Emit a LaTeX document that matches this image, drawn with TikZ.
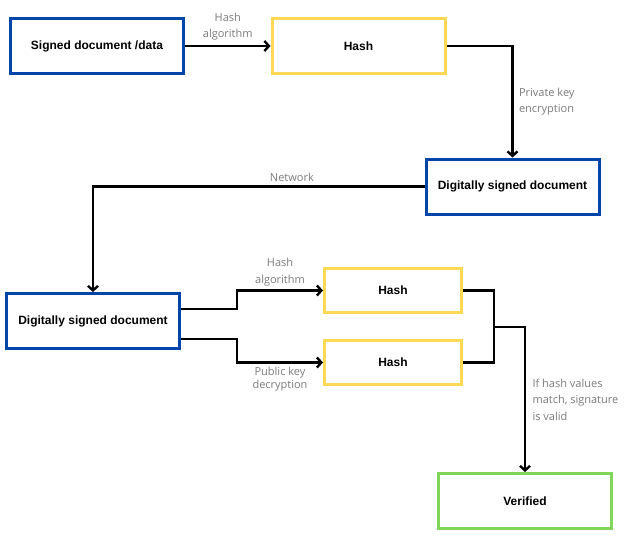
\documentclass[tikz,border=0pt]{standalone}
\usepackage{fontspec}
\usetikzlibrary{arrows.meta}
\newfontfamily\boxfont{Liberation Sans}
\newfontfamily\lblfont{Open Sans}
\definecolor{docblue}{RGB}{0,70,170}
\definecolor{hashyellow}{RGB}{255,216,85}
\definecolor{okgreen}{RGB}{128,214,88}

\begin{document}
\begin{tikzpicture}[x=1pt,y=-1pt,
  box/.style={draw, line width=3pt, minimum height=55pt, minimum width=173pt, font=\boxfont\bfseries\fontsize{12}{14}\selectfont},
  doc/.style={box, draw=docblue},
  hash/.style={box, draw=hashyellow},
  conn/.style={line width=2.4pt, -{Straight Barb[length=4.5pt,width=10pt,line width=2.4pt]}},
  wire/.style={line width=2.4pt},
  lbl/.style={text=black!52, align=center, font=\lblfont\fontsize{11}{16.5}\selectfont}]
\useasboundingbox (0,0) rectangle (624,543);

\node[doc] at (97,46) (sig){Signed document /data};
\node[hash] at (358.5,46) (hashA){Hash};
\node[doc] at (512.5,186.5) (dsdA){Digitally signed document};
\node[doc] at (93,321) (dsdB){Digitally signed document};
\node[hash, minimum width=137pt, minimum height=44pt] at (393,290.5) (hashB){Hash};
\node[hash, minimum width=137pt, minimum height=44pt] at (393,362.5) (hashC){Hash};
\node[box, draw=okgreen] at (525,501) (ver){Verified};

\draw[conn] (sig.east) -- (hashA.west) node[lbl, midway, above=1pt]{Hash\\algorithm};
\draw[conn] (hashA.east) -| (dsdA.north) node[lbl, align=left, right=2pt, pos=0.75]{Private key\\encryption}; % sign
\draw[conn] (dsdA.west) -| (dsdB.north) node[lbl, above, pos=0.2]{Network}; % send

\draw[conn] ([yshift=12]dsdB.east) -- ++(56,0) |- (hashB.west) node[lbl, above, pos=0.75]{Hash\\algorithm};
\draw[conn] ([yshift=-18]dsdB.east) -- ++(56,0) |- (hashC.west) node[lbl, below, pos=0.75, font=\lblfont\fontsize{11}{13}\selectfont]{Public key\\decryption};

\coordinate (mrg) at (494,327); % compare
\draw[wire] (hashB.east) -| (mrg);
\draw[wire] (hashC.east) -| (mrg);
\draw[conn] (mrg) -| (ver.north) node[lbl, align=left, right=3pt, pos=0.75]{If hash values\\match, signature\\is valid};

\end{tikzpicture}
\end{document}
